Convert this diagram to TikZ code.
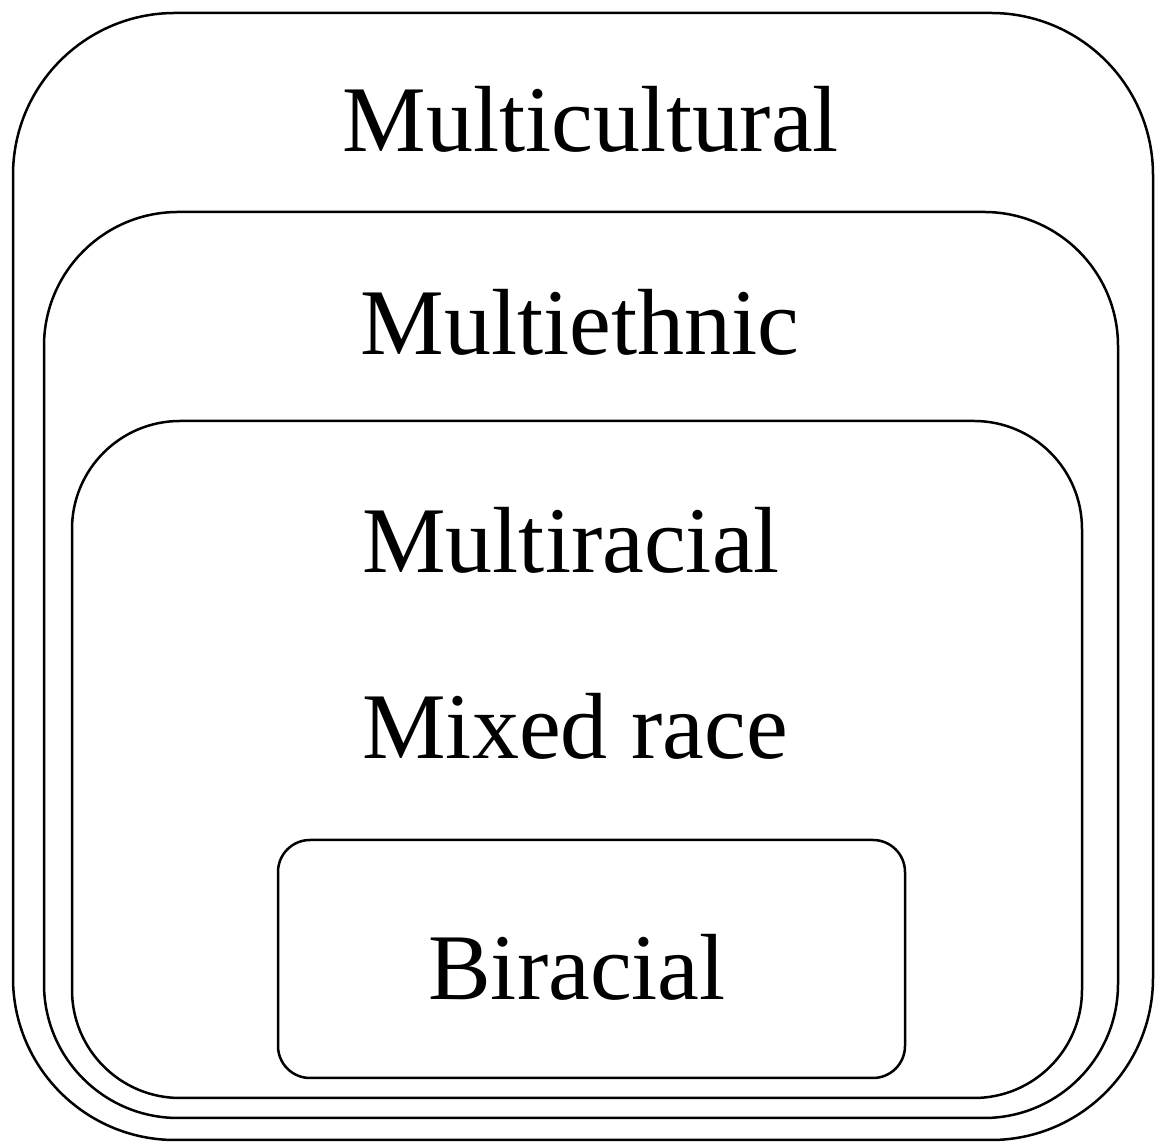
\documentclass[tikz,border=0pt]{standalone}
\usepackage{fontspec}
\setmainfont{Liberation Serif}
\begin{document}
\begin{tikzpicture}[x=1pt,y=1pt,
  frame/.style={draw=black,line width=2.5pt,fill=none},
  label/.style={anchor=base,inner sep=0pt,font=\fontsize{94}{110}\selectfont}]
\useasboundingbox (0,0) rectangle (1157,1142);
% nested rounded frames, outermost first
\draw[frame,rounded corners=162pt] (13,2) rectangle (1153,1129);
\draw[frame,rounded corners=134pt] (44,24) rectangle (1118,930);
\draw[frame,rounded corners=108pt] (72,44) rectangle (1082,721);
\draw[frame,rounded corners=32pt] (278,64) rectangle (905,302);
% labels
\node[label] (multicultural) at (591,990) {Multicultural};
\node[label] (multiethnic) at (580,787) {Multiethnic};
\node[label] (multiracial) at (571,569) {Multiracial};
\node[label] (mixedrace) at (575,383) {Mixed race};
\node[label] (biracial) at (577,142) {Biracial};
\end{tikzpicture}
\end{document}
